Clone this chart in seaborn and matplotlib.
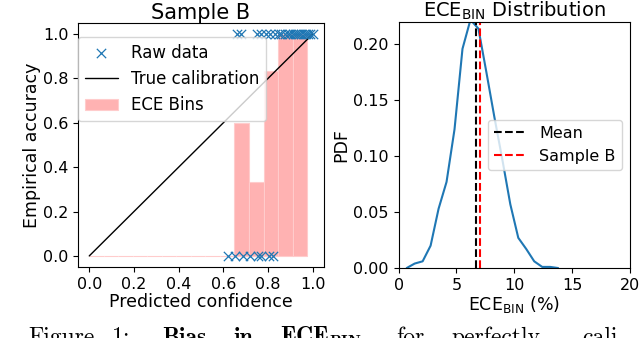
import matplotlib
matplotlib.use("Agg")
import matplotlib.pyplot as plt
import seaborn as sns
import pandas as pd

# Sample B raw data: predicted confidence of correct / wrong predictions
conf_correct = [0.66, 0.68, 0.75, 0.77, 0.79, 0.81, 0.83, 0.85, 0.86, 0.875,
                0.89, 0.90, 0.91, 0.92, 0.93, 0.94, 0.95, 0.96, 0.97, 0.98,
                0.99, 1.00]
conf_wrong = [0.623, 0.652, 0.689, 0.718, 0.754, 0.769, 0.805, 0.822]

# ECE bins (left edge, empirical accuracy)
bin_lefts = [0.0, 0.065, 0.13, 0.195, 0.26, 0.325, 0.39, 0.455, 0.52, 0.585,
             0.65, 0.715, 0.78, 0.845, 0.91]
bin_acc = [0, 0, 0, 0, 0, 0, 0, 0, 0, 0,
           0.6, 0.333, 0.833, 1.0, 1.0]
bin_width = 0.065

calib_x = [0.0, 1.0]

# ECE_BIN distribution
ece_vals = [0.69, 1.38, 2.07, 2.76, 3.45, 4.14, 4.83, 5.52, 6.21, 6.90,
            7.59, 8.28, 8.97, 9.66, 10.35, 11.04, 11.73, 12.42, 13.11, 13.80]
ece_pdf = [0.000, 0.004, 0.006, 0.020, 0.053, 0.077, 0.124, 0.196, 0.222, 0.214,
           0.175, 0.135, 0.097, 0.057, 0.027, 0.017, 0.006, 0.001, 0.001, 0.000]
mean_ece = 6.67
sample_b_ece = 7.03

sns.set_style("ticks", {"xtick.major.size": 3.5, "ytick.major.size": 3.5,
                        "axes.edgecolor": "black", "text.color": "black",
                        "axes.labelcolor": "black", "xtick.color": "black",
                        "ytick.color": "black"})
plt.rcParams['font.family'] = ['DejaVu Sans']

fig = plt.figure(figsize=(6.4, 3.38), dpi=100)
ax1 = fig.add_axes([0.122, 0.210, 0.384, 0.722])
ax2 = fig.add_axes([0.623, 0.207, 0.361, 0.728])

# left panel
raw = pd.DataFrame({
    'conf': conf_correct + conf_wrong,
    'acc': [1.0] * len(conf_correct) + [0.0] * len(conf_wrong),
})
bars = ax1.bar(bin_lefts, bin_acc, width=bin_width, align='edge',
               facecolor=(1, 0, 0, 0.3), edgecolor='#ffcccc', linewidth=0.8,
               label='ECE Bins', zorder=1)
line, = ax1.plot(calib_x, calib_x, color='black', linewidth=1,
                 label='True calibration', zorder=2)
sns.scatterplot(data=raw, x='conf', y='acc', marker='x', color='#1f77b4',
                s=45, linewidth=0.9, ax=ax1, label='Raw data', zorder=3)
sc = ax1.collections[-1]
ax1.set_xlim(-0.05, 1.05)
ax1.set_ylim(-0.05, 1.05)
ax1.set_xticks([0.0, 0.2, 0.4, 0.6, 0.8, 1.0])
ax1.set_yticks([0.0, 0.2, 0.4, 0.6, 0.8, 1.0])
ax1.tick_params(labelsize=11.5)
ax1.set_xlabel('Predicted confidence', fontsize=12.5, labelpad=1)
ax1.set_ylabel('Empirical accuracy', fontsize=12.5, labelpad=1)
ax1.set_title('Sample B', fontsize=15, pad=3)
ax1.legend([sc, line, bars], ['Raw data', 'True calibration', 'ECE Bins'],
           loc='upper left', bbox_to_anchor=(0.0, 0.943), borderaxespad=0,
           fontsize=12, handlelength=2.0)

# right panel
sns.lineplot(x=ece_vals, y=ece_pdf, ax=ax2, color='#1f77b4', linewidth=1.5)
ax2.axvline(mean_ece, color='black', linestyle='--', linewidth=1.5, label='Mean')
ax2.axvline(sample_b_ece, color='red', linestyle='--', linewidth=1.5, label='Sample B')
ax2.set_xlim(0, 20)
ax2.set_ylim(0, 0.22)
ax2.set_xticks([0, 5, 10, 15, 20])
ax2.set_yticks([0.00, 0.05, 0.10, 0.15, 0.20])
ax2.set_yticklabels(['0.00', '0.05', '0.10', '0.15', '0.20'])
ax2.tick_params(labelsize=11.5)
ax2.set_xlabel(r'ECE$_{\mathrm{BIN}}$ (%)', fontsize=12.5, labelpad=1)
ax2.set_ylabel('PDF', fontsize=12.5, labelpad=2)
ax2.set_title(r'ECE$_{\mathrm{BIN}}$ Distribution', fontsize=14, pad=3)
ax2.legend(loc='center right', fontsize=11.5)

# figure caption, cropped at the bottom edge as in the reference
caption = [('Figure', 28, 'cmr10'), ('1:', 112, 'cmr10'), ('Bias', 162, 'cmb10'),
           ('in', 233, 'cmb10'), (r'ECE$_{\mathbf{BIN}}$', 280, 'cmb10'),
           ('for', 396, 'cmr10'), ('perfectly', 451, 'cmr10'), ('cali', 582, 'cmr10')]
for word, xpix, fam in caption:
    fig.text(xpix / 640, -6 / 338, word, family=fam, fontsize=17,
             va='baseline', ha='left', math_fontfamily='cm')

fig.savefig('out.png', dpi=100)
